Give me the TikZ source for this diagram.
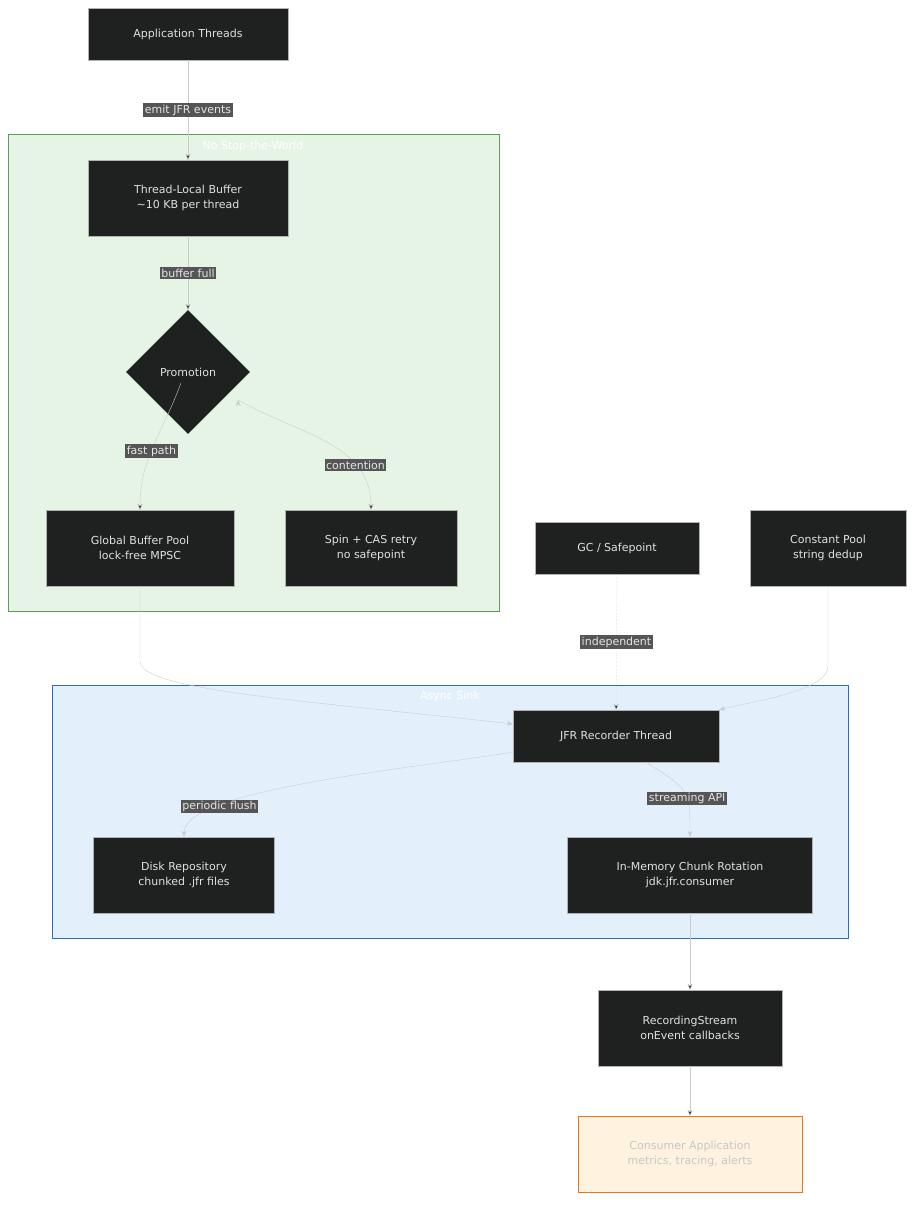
\documentclass[tikz,border=0pt]{standalone}
\usepackage{fontspec}
\setmainfont{DejaVu Sans}
\usepackage{tikz}
\usetikzlibrary{shapes.geometric,arrows.meta}
\definecolor{boxfill}{HTML}{1F2020}
\definecolor{edgegray}{HTML}{CCCCCC}
\definecolor{lblfill}{HTML}{555555}
\definecolor{greenfill}{HTML}{E6F4E6}
\definecolor{greenline}{HTML}{5A9E5A}
\definecolor{bluefill}{HTML}{E3F0FB}
\definecolor{blueline}{HTML}{2A6EBB}
\definecolor{orangefill}{HTML}{FFF3E0}
\definecolor{orangeline}{HTML}{E8741C}
\tikzset{
	box/.style={rectangle, draw=gray!60, fill=boxfill, text=white!88!black, align=center,
		font=\fontsize{11}{15}\selectfont, minimum height=#1},
	box/.default=52pt,
	lbl/.style={fill=lblfill, text=white!90!black, font=\fontsize{11}{13}\selectfont,
		inner sep=1.5pt},
	flow/.style={draw=edgegray, -{Stealth[length=6pt,width=5pt]}},
}
\begin{document}
\begin{tikzpicture}[x=1pt,y=-1pt]
		\useasboundingbox (0,0) rectangle (923,1212);
		% clusters
		\draw[fill=greenfill, draw=greenline] (8,134) rectangle (499,611);
		\node[text=white, font=\fontsize{11}{13}\selectfont] (nstw) at (253,146) {No Stop-the-World};
		\draw[fill=bluefill, draw=blueline] (52,685) rectangle (848,938);
		\node[text=white, font=\fontsize{11}{13}\selectfont] (async) at (450,696) {Async Sink};

		\draw (188,34) node[box, minimum width=200pt] (app) {Application Threads};
		\draw (188,198) node[box=76pt, minimum width=200pt] (tlb) {Thread-Local Buffer\\\textasciitilde10 KB per thread};
		\draw (188,372) node[diamond, fill=boxfill, text=white!88!black, inner sep=0pt,
			minimum width=124pt, minimum height=124pt, font=\fontsize{11}{13}\selectfont] (promo) {Promotion};
		\draw (140,548) node[box=76pt, minimum width=188pt] (gbp) {Global Buffer Pool\\lock-free MPSC};
		\draw (371,548) node[box=76pt, minimum width=172pt] (spin) {Spin + CAS retry\\no safepoint};
		\draw (617,548) node[box, minimum width=164pt] (gc) {GC / Safepoint};
		\draw (828,548) node[box=76pt, minimum width=156pt] (cpool) {Constant Pool\\string dedup};
		\draw (616,736) node[box, minimum width=206pt] (jfr) {JFR Recorder Thread};
		\draw (184,875) node[box=76pt, minimum width=181pt] (disk) {Disk Repository\\chunked .jfr files};
		\draw (690,875) node[box=76pt, minimum width=245pt] (mem) {In-Memory Chunk Rotation\\jdk.jfr.consumer};
		\draw (690,1028) node[box=76pt, minimum width=184pt] (rs) {RecordingStream\\onEvent callbacks};
		\draw (690,1154) node[box=76pt, minimum width=224pt, fill=orangefill, draw=orangeline,
			text=gray!45] (cons) {Consumer Application\\metrics, tracing, alerts};

		\path[flow]
			(app) 	edge 	node[lbl] {emit JFR events} 	(tlb)
			(tlb) 	edge 	node[lbl] {buffer full} 	(promo)
			(promo.south west) ++(24,-20) edge[out=-110, in=90] node[lbl, pos=0.55] {fast path} (gbp)
			(promo.east) ++(-12,28) edge[out=-30, in=90] node[lbl, pos=0.72] {contention} (spin)
			(gc) 	edge[densely dotted] node[lbl] {independent} (jfr)
			(rs) 	edge 	(cons)
			(mem) 	edge 	(rs)
			;
		\draw[flow] (gbp.south) -- ++(0,75) .. controls (140,690) and (300,700) .. (jfr.west |- 0,724);
		\draw[flow] (cpool.south) -- ++(0,80) .. controls (828,690) and (760,700) .. (jfr.north east);
		\draw[flow] (jfr.south west) ++(0,-10) .. controls (400,770) and (184,790) .. node[lbl, pos=0.75] {periodic flush} (disk.north);
		\draw[flow] (jfr.south) ++(30,0) .. controls (690,790) .. node[lbl, pos=0.6] {streaming API} (mem.north);
	\end{tikzpicture}
\end{document}
